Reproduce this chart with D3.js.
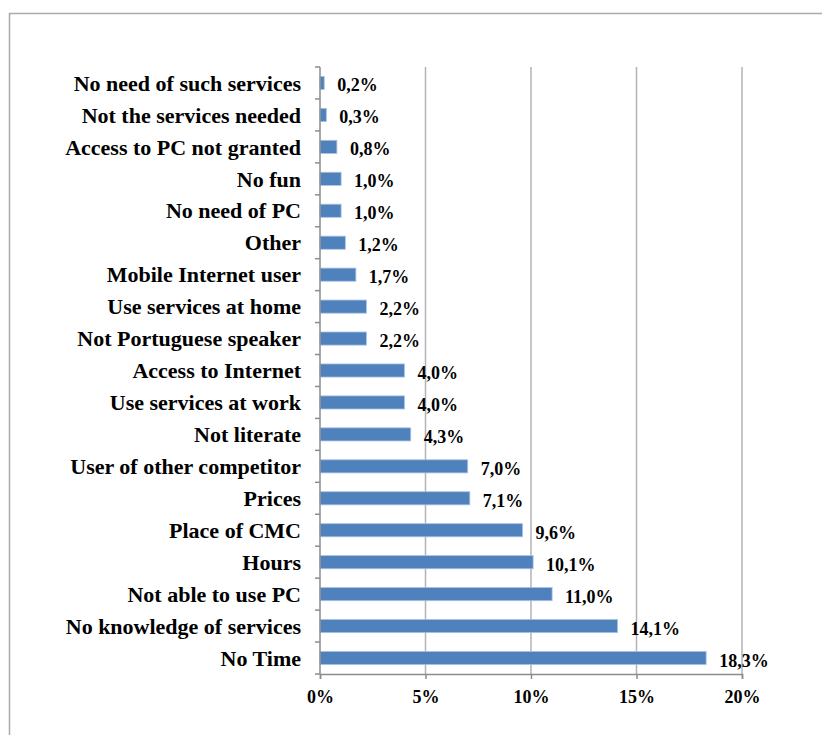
<!DOCTYPE html>
<html>
<head>
<meta charset="utf-8">
<script src="https://cdn.jsdelivr.net/npm/d3@7"></script>
<style>
  html, body { margin: 0; padding: 0; background: #fff; }
  svg { display: block; }
  text { font-family: "Liberation Serif", "Times New Roman", serif; font-weight: bold; fill: #000; }
</style>
</head>
<body>
<svg id="chart" width="822" height="735"></svg>
<script>
// Reasons for not using the services, share of respondents (%)
const categories = [
  "No need of such services",
  "Not the services needed",
  "Access to PC not granted",
  "No fun",
  "No need of PC",
  "Other",
  "Mobile Internet user",
  "Use services at home",
  "Not Portuguese speaker",
  "Access to Internet",
  "Use services at work",
  "Not literate",
  "User of other competitor",
  "Prices",
  "Place of CMC",
  "Hours",
  "Not able to use PC",
  "No knowledge of services",
  "No Time"
];
const values = [0.2, 0.3, 0.8, 1.0, 1.0, 1.2, 1.7, 2.2, 2.2, 4.0, 4.0, 4.3, 7.0, 7.1, 9.6, 10.1, 11.0, 14.1, 18.3];
const xTicks = [0, 5, 10, 15, 20];

const FONT = "Liberation Serif, Times New Roman, serif";
const svg = d3.select("#chart");

// Chart frame
svg.append("rect")
  .attr("x", 9.5).attr("y", 13.5)
  .attr("width", 900).attr("height", 800)
  .attr("fill", "none").attr("stroke", "#ababab").attr("stroke-width", 1.5);

const plotLeft = 320, plotRight = 742, plotTop = 67, plotBottom = 674;

const x = d3.scaleLinear().domain([0, 20]).range([plotLeft, plotRight]);
const y = d3.scaleBand().domain(categories).range([plotTop, plotBottom]).paddingInner(0.59).paddingOuter(0.295);

const fmt = v => d3.format(".1f")(v).replace(".", ",") + "%";

// Vertical gridlines
svg.append("g").selectAll("line")
  .data(xTicks.slice(1))
  .join("line")
  .attr("x1", d => x(d)).attr("x2", d => x(d))
  .attr("y1", plotTop).attr("y2", plotBottom)
  .attr("stroke", "#b3b3b3").attr("stroke-width", 1.5);

// Bars
svg.append("g").selectAll("rect")
  .data(values)
  .join("rect")
  .attr("x", x(0))
  .attr("y", (d, i) => y(categories[i]))
  .attr("width", d => x(d) - x(0))
  .attr("height", y.bandwidth())
  .attr("fill", "#4f81bd")
  .attr("stroke", "#a9c1e0").attr("stroke-width", 0.8);

// Value labels
svg.append("g").selectAll("text")
  .data(values)
  .join("text")
  .attr("x", d => x(d) + 13)
  .attr("y", (d, i) => y(categories[i]) + y.bandwidth() / 2 + 8.5)
  .attr("font-family", FONT)
  .attr("font-weight", "bold")
  .attr("font-size", 18)
  .text(d => fmt(d));

// X axis
const xAxis = svg.append("g")
  .attr("transform", `translate(0,${plotBottom})`)
  .call(d3.axisBottom(x).tickValues(xTicks).tickSize(5).tickPadding(11).tickFormat(d => d + "%"));
xAxis.attr("font-family", FONT).attr("font-size", 18).attr("font-weight", "bold");
xAxis.select(".domain").attr("stroke", "#8c8c8c").attr("stroke-width", 1.5);
xAxis.selectAll(".tick line").attr("stroke", "#8c8c8c").attr("stroke-width", 1.5);

// Y axis with tick marks at category boundaries
const yAxisG = svg.append("g");
yAxisG.append("line")
  .attr("x1", plotLeft).attr("x2", plotLeft)
  .attr("y1", plotTop).attr("y2", plotBottom)
  .attr("stroke", "#8c8c8c").attr("stroke-width", 1.5);
const step = y.step();
yAxisG.selectAll("line.tick")
  .data(d3.range(categories.length + 1))
  .join("line")
  .attr("class", "tick")
  .attr("x1", plotLeft - 5).attr("x2", plotLeft)
  .attr("y1", i => plotTop + i * step).attr("y2", i => plotTop + i * step)
  .attr("stroke", "#8c8c8c").attr("stroke-width", 1.5);

// Category labels
yAxisG.selectAll("text")
  .data(categories)
  .join("text")
  .attr("x", 301)
  .attr("y", d => y(d) + y.bandwidth() / 2)
  .attr("dy", "0.35em")
  .attr("text-anchor", "end")
  .attr("font-family", FONT)
  .attr("font-weight", "bold")
  .attr("font-size", 22)
  .text(d => d);
</script>
</body>
</html>
